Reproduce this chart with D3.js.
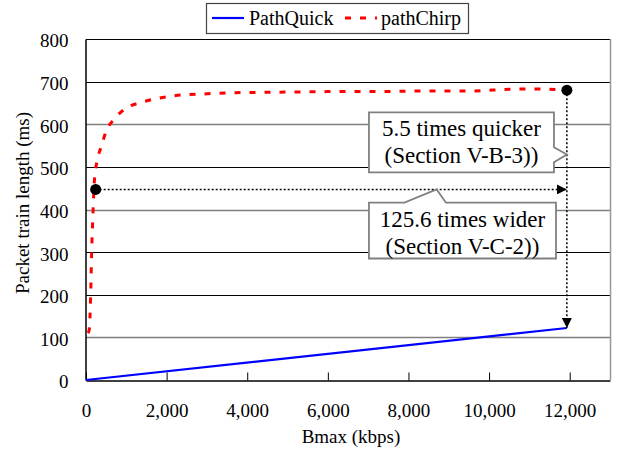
<!DOCTYPE html>
<html>
<head>
<meta charset="utf-8">
<script src="https://cdn.jsdelivr.net/npm/d3@7"></script>
<style>
  body { margin: 0; background: #fff; }
  svg, svg text { font-family: "Liberation Serif", "Times New Roman", serif; }
  svg { display: block; }
</style>
</head>
<body>
<div id="chart"></div>
<script>
// Données
const quickX = [0, 11930];
const quickY = [0, 122];

const chirpX = [50, 80, 115, 140, 165, 210, 285, 380, 500, 700, 1000, 1400, 1800, 2200, 2900, 3700, 4500, 5500, 6500, 7500, 8500, 9500, 10500, 11000, 11930];
const chirpY = [110, 118, 195, 300, 370, 470, 518, 548, 584, 612, 638, 652, 661, 667, 671, 674, 675, 676, 677, 677, 678, 678, 682, 683, 680];

const xTicks = [0, 2000, 4000, 6000, 8000, 10000, 12000];
const yTicks = [0, 100, 200, 300, 400, 500, 600, 700, 800];

const startPoint = [240, 447];  // début du pathChirp
const endPoint = [11930, 680];  // fin du pathChirp

// Dimensions
const width = 619;
const height = 455;
const margin = { top: 39, right: 9, bottom: 75, left: 86 };
const serif = "Liberation Serif";

const svg = d3
  .select("#chart")
  .append("svg")
  .attr("width", width)
  .attr("height", height);

const x = d3.scaleLinear().domain([0, 13000]).range([margin.left, width - margin.right]);
const y = d3.scaleLinear().domain([0, 800]).range([height - margin.bottom, margin.top]);

// Flèches
const defs = svg.append("defs");
defs
  .append("marker")
  .attr("id", "arrow")
  .attr("viewBox", "0 0 10 10")
  .attr("refX", 10)
  .attr("refY", 5)
  .attr("markerWidth", 10)
  .attr("markerHeight", 10)
  .attr("markerUnits", "userSpaceOnUse")
  .attr("orient", "auto")
  .append("path")
  .attr("d", "M0,0L10,5L0,10Z")
  .attr("fill", "#000");

// Lignes de grille (certaines plus grises, comme sur l'original)
const grayLines = [100, 400, 600];
svg
  .append("g")
  .selectAll("line")
  .data(yTicks.filter((d) => d > 0))
  .enter()
  .append("line")
  .attr("x1", x(0))
  .attr("x2", x(13000))
  .attr("y1", (d) => Math.round(y(d)) + 0.5)
  .attr("y2", (d) => Math.round(y(d)) + 0.5)
  .attr("stroke", (d) => (grayLines.includes(d) ? "#7f7f7f" : "#000"))
  .attr("stroke-width", (d) => (grayLines.includes(d) ? 1.6 : 1));

// Bord droit gris
svg
  .append("line")
  .attr("x1", x(13000) + 0.5)
  .attr("x2", x(13000) + 0.5)
  .attr("y1", y(800))
  .attr("y2", y(0))
  .attr("stroke", "#999")
  .attr("stroke-width", 1.5);

// Axes
const xAxis = svg
  .append("g")
  .attr("transform", `translate(0, ${Math.round(y(0)) + 0.5})`)
  .call(
    d3.axisBottom(x)
      .tickValues(xTicks)
      .tickSizeInner(-8)
      .tickSizeOuter(0)
      .tickFormat(d3.format(","))
  )
  .attr("font-family", serif)
  .attr("font-size", 19);
xAxis.select(".domain").attr("stroke", "#000").attr("stroke-width", 1.5);
xAxis.selectAll(".tick line").attr("stroke", "#000");
xAxis
  .selectAll("text")
  .attr("y", 36)
  .attr("dy", 0)
  .attr("fill", "#000");

const yAxis = svg
  .append("g")
  .attr("transform", `translate(${x(0) - 0.5}, 0)`)
  .call(d3.axisLeft(y).tickValues(yTicks).tickSize(0).tickPadding(17))
  .attr("font-family", serif)
  .attr("font-size", 19);
yAxis.select(".domain").attr("stroke", "#000").attr("stroke-width", 1.5);
yAxis
  .selectAll("text")
  .attr("dy", "0.42em")
  .attr("fill", "#000");

// Titres des axes
svg
  .append("text")
  .attr("x", 351)
  .attr("y", 443)
  .attr("text-anchor", "middle")
  .attr("font-family", serif)
  .attr("font-size", 19)
  .text("Bmax (kbps)");

svg
  .append("text")
  .attr("transform", "translate(29, 203) rotate(-90)")
  .attr("text-anchor", "middle")
  .attr("font-family", serif)
  .attr("font-size", 19)
  .text("Packet train length (ms)");

// Séries
const line = d3.line().x((d) => x(d[0])).y((d) => y(d[1]));

svg
  .append("path")
  .datum(quickX.map((v, i) => [v, quickY[i]]))
  .attr("d", line)
  .attr("fill", "none")
  .attr("stroke", "#0000ff")
  .attr("stroke-width", 2.2);

svg
  .append("path")
  .datum(chirpX.map((v, i) => [v, chirpY[i]]))
  .attr("d", line.curve(d3.curveMonotoneX))
  .attr("fill", "none")
  .attr("stroke", "#ff0000")
  .attr("stroke-width", 3)
  .attr("stroke-dasharray", "6,9");

// Flèches pointillées
svg
  .append("line")
  .attr("x1", x(startPoint[0]))
  .attr("y1", y(startPoint[1]))
  .attr("x2", x(endPoint[0]))
  .attr("y2", y(startPoint[1]))
  .attr("stroke", "#000")
  .attr("stroke-width", 1.5)
  .attr("stroke-dasharray", "2,2")
  .attr("marker-end", "url(#arrow)");

svg
  .append("line")
  .attr("x1", x(endPoint[0]))
  .attr("y1", y(endPoint[1]))
  .attr("x2", x(endPoint[0]))
  .attr("y2", y(quickY[1]))
  .attr("stroke", "#000")
  .attr("stroke-width", 1.5)
  .attr("stroke-dasharray", "2,2")
  .attr("marker-end", "url(#arrow)");

svg
  .selectAll(".dot")
  .data([startPoint, endPoint])
  .enter()
  .append("circle")
  .attr("cx", (d) => x(d[0]))
  .attr("cy", (d) => y(d[1]))
  .attr("r", 5.5)
  .attr("fill", "#000");

// Bulles d'annotation
function callout(x0, x1, y0, y1, pointer, lines) {
  const L = x(x0), R = x(x1), T = y(y0), B = y(y1);
  let pts;
  if (pointer.side === "right") {
    pts = [[L, T], [R, T], [R, y(pointer.b0)], [x(pointer.tx), y(pointer.ty)], [R, y(pointer.b1)], [R, B], [L, B]];
  } else {
    pts = [[L, T], [x(pointer.b0), T], [x(pointer.tx), y(pointer.ty)], [x(pointer.b1), T], [R, T], [R, B], [L, B]];
  }
  svg
    .append("path")
    .attr("d", "M" + pts.map((p) => p.join(",")).join("L") + "Z")
    .attr("fill", "#fff")
    .attr("stroke", "#808080")
    .attr("stroke-width", 1.8);
  svg
    .append("text")
    .attr("text-anchor", "middle")
    .attr("font-family", serif)
    .attr("font-size", 23)
    .selectAll("tspan")
    .data(lines)
    .enter()
    .append("tspan")
    .attr("x", (L + R) / 2)
    .attr("y", (d, i) => T + 24 + i * 27)
    .text((d) => d);
}

callout(7020, 11610, 628, 487,
  { side: "right", b0: 546, b1: 511, tx: endPoint[0], ty: 529 },
  ["5.5 times quicker", "(Section V-B-3))"]);

callout(7020, 11660, 416, 285,
  { side: "top", b0: 7900, b1: 8930, tx: 8700, ty: startPoint[1] },
  ["125.6 times wider", "(Section V-C-2))"]);

// Légende
const legend = svg.append("g").attr("font-family", serif).attr("font-size", 20);
legend
  .append("rect")
  .attr("x", 206.5)
  .attr("y", 3.5)
  .attr("width", 262)
  .attr("height", 30)
  .attr("fill", "#fff")
  .attr("stroke", "#444")
  .attr("stroke-width", 1.2);
legend
  .append("line")
  .attr("x1", 212).attr("x2", 244)
  .attr("y1", 18).attr("y2", 18)
  .attr("stroke", "#0000ff")
  .attr("stroke-width", 2.2);
legend
  .append("line")
  .attr("x1", 345).attr("x2", 377)
  .attr("y1", 18).attr("y2", 18)
  .attr("stroke", "#ff0000")
  .attr("stroke-width", 3)
  .attr("stroke-dasharray", "6,9");
legend
  .append("text")
  .attr("x", 249)
  .attr("y", 25)
  .text("PathQuick");
legend
  .append("text")
  .attr("x", 381)
  .attr("y", 25)
  .text("pathChirp");
</script>
</body>
</html>
